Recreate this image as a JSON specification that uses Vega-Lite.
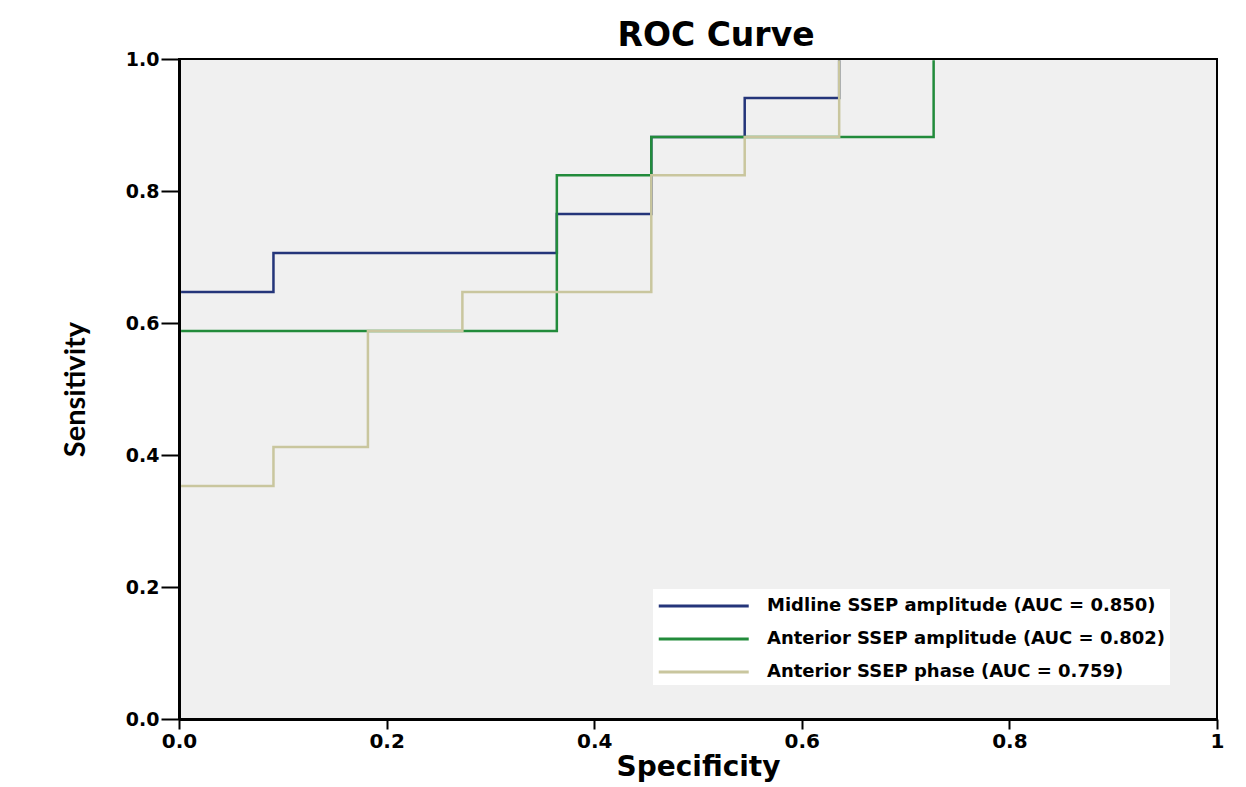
{
  "$schema": "https://vega.github.io/schema/vega-lite/v6.json",
  "width": 1038,
  "height": 660,
  "autosize": "none",
  "padding": {"left": 179, "top": 59, "right": 29, "bottom": 68},
  "background": "white",
  "title": {
    "text": "ROC Curve",
    "font": "DejaVu Sans",
    "fontWeight": "bold",
    "fontSize": 33,
    "color": "black",
    "anchor": "middle",
    "dx": 18,
    "offset": -3
  },
  "config": {
    "view": {"fill": "#f0f0f0", "stroke": "black", "strokeWidth": 2},
    "axis": {
      "grid": false,
      "zindex": 1,
      "domainColor": "black",
      "domainWidth": 3,
      "tickColor": "black",
      "tickWidth": 2,
      "labelFont": "DejaVu Sans",
      "labelFontWeight": "bold",
      "labelColor": "black",
      "titleColor": "black",
      "titleFontWeight": "bold"
    }
  },
  "data": {
    "values": [
      {"s": "Midline SSEP amplitude (AUC = 0.850)", "o": 2, "x": 0.002, "y": 0.647},
      {"s": "Midline SSEP amplitude (AUC = 0.850)", "o": 3, "x": 0.091, "y": 0.647},
      {"s": "Midline SSEP amplitude (AUC = 0.850)", "o": 4, "x": 0.091, "y": 0.706},
      {"s": "Midline SSEP amplitude (AUC = 0.850)", "o": 5, "x": 0.364, "y": 0.706},
      {"s": "Midline SSEP amplitude (AUC = 0.850)", "o": 6, "x": 0.364, "y": 0.765},
      {"s": "Midline SSEP amplitude (AUC = 0.850)", "o": 7, "x": 0.455, "y": 0.765},
      {"s": "Midline SSEP amplitude (AUC = 0.850)", "o": 8, "x": 0.455, "y": 0.882},
      {"s": "Midline SSEP amplitude (AUC = 0.850)", "o": 9, "x": 0.545, "y": 0.882},
      {"s": "Midline SSEP amplitude (AUC = 0.850)", "o": 10, "x": 0.545, "y": 0.941},
      {"s": "Midline SSEP amplitude (AUC = 0.850)", "o": 11, "x": 0.636, "y": 0.941},
      {"s": "Midline SSEP amplitude (AUC = 0.850)", "o": 12, "x": 0.636, "y": 0.998},
      {"s": "Anterior SSEP amplitude (AUC = 0.802)", "o": 2, "x": 0.002, "y": 0.588},
      {"s": "Anterior SSEP amplitude (AUC = 0.802)", "o": 3, "x": 0.364, "y": 0.588},
      {"s": "Anterior SSEP amplitude (AUC = 0.802)", "o": 4, "x": 0.364, "y": 0.824},
      {"s": "Anterior SSEP amplitude (AUC = 0.802)", "o": 5, "x": 0.455, "y": 0.824},
      {"s": "Anterior SSEP amplitude (AUC = 0.802)", "o": 6, "x": 0.455, "y": 0.882},
      {"s": "Anterior SSEP amplitude (AUC = 0.802)", "o": 7, "x": 0.727, "y": 0.882},
      {"s": "Anterior SSEP amplitude (AUC = 0.802)", "o": 8, "x": 0.727, "y": 0.998},
      {"s": "Anterior SSEP phase (AUC = 0.759)", "o": 2, "x": 0.002, "y": 0.353},
      {"s": "Anterior SSEP phase (AUC = 0.759)", "o": 3, "x": 0.091, "y": 0.353},
      {"s": "Anterior SSEP phase (AUC = 0.759)", "o": 4, "x": 0.091, "y": 0.412},
      {"s": "Anterior SSEP phase (AUC = 0.759)", "o": 5, "x": 0.182, "y": 0.412},
      {"s": "Anterior SSEP phase (AUC = 0.759)", "o": 6, "x": 0.182, "y": 0.588},
      {"s": "Anterior SSEP phase (AUC = 0.759)", "o": 7, "x": 0.273, "y": 0.588},
      {"s": "Anterior SSEP phase (AUC = 0.759)", "o": 8, "x": 0.273, "y": 0.647},
      {"s": "Anterior SSEP phase (AUC = 0.759)", "o": 9, "x": 0.455, "y": 0.647},
      {"s": "Anterior SSEP phase (AUC = 0.759)", "o": 10, "x": 0.455, "y": 0.824},
      {"s": "Anterior SSEP phase (AUC = 0.759)", "o": 11, "x": 0.545, "y": 0.824},
      {"s": "Anterior SSEP phase (AUC = 0.759)", "o": 12, "x": 0.545, "y": 0.882},
      {"s": "Anterior SSEP phase (AUC = 0.759)", "o": 13, "x": 0.636, "y": 0.882},
      {"s": "Anterior SSEP phase (AUC = 0.759)", "o": 14, "x": 0.636, "y": 0.998}
    ]
  },
  "mark": {"type": "line", "strokeWidth": 2.5},
  "encoding": {
    "x": {
      "field": "x",
      "type": "quantitative",
      "scale": {"domain": [0, 1], "nice": false},
      "axis": {
        "title": "Specificity",
        "titleFont": "DejaVu Sans",
        "titleFontSize": 28,
        "titlePadding": 2,
        "values": [0, 0.2, 0.4, 0.6, 0.8, 1],
        "labelExpr": "datum.value == 1 ? '1' : format(datum.value, '.1f')",
        "labelFontSize": 20,
        "tickSize": 10,
        "labelPadding": 2,
        "labelFlush": false
      }
    },
    "y": {
      "field": "y",
      "type": "quantitative",
      "scale": {"domain": [0, 1], "nice": false},
      "axis": {
        "title": "Sensitivity",
        "titleFont": "Lato",
        "titleFontSize": 29,
        "titlePadding": 35,
        "values": [0, 0.2, 0.4, 0.6, 0.8, 1],
        "format": ".1f",
        "labelFontSize": 19,
        "tickSize": 18,
        "labelPadding": 2,
        "labelFlush": false
      }
    },
    "order": {"field": "o"},
    "color": {
      "field": "s",
      "type": "nominal",
      "sort": ["Midline SSEP amplitude (AUC = 0.850)", "Anterior SSEP amplitude (AUC = 0.802)", "Anterior SSEP phase (AUC = 0.759)"],
      "scale": {
        "domain": ["Midline SSEP amplitude (AUC = 0.850)", "Anterior SSEP amplitude (AUC = 0.802)", "Anterior SSEP phase (AUC = 0.759)"],
        "range": ["#24357a", "#228b3b", "#c9c69e"]
      },
      "legend": {
        "title": null,
        "orient": "none",
        "legendX": 474,
        "legendY": 530,
        "fillColor": "white",
        "padding": 4,
        "symbolType": "M-1,0H7",
        "symbolSize": 506,
        "symbolStrokeWidth": 3,
        "labelFont": "DejaVu Sans",
        "labelFontWeight": "bold",
        "labelFontSize": 18,
        "labelColor": "black",
        "labelLimit": 600,
        "labelOffset": 84,
        "rowPadding": 11
      }
    }
  }
}
